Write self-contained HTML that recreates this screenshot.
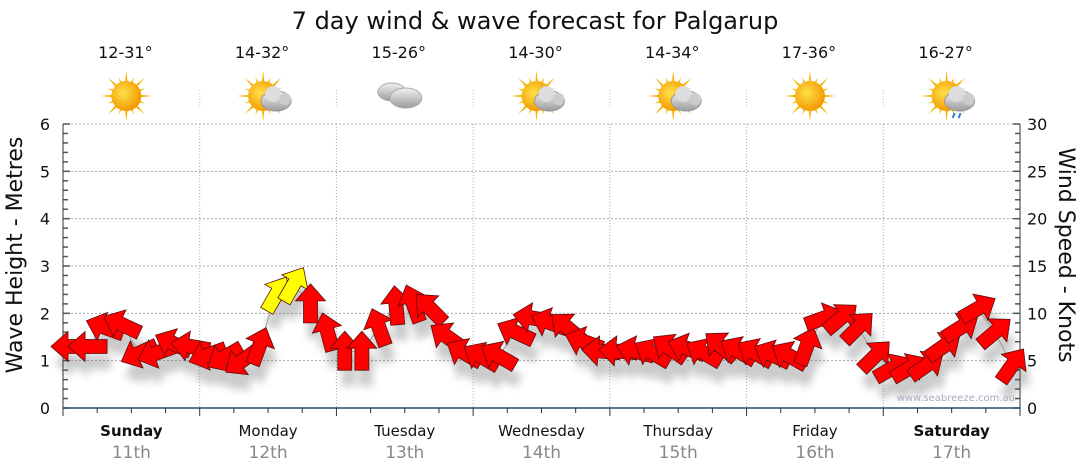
<!DOCTYPE html>
<html><head><meta charset="utf-8">
<style>
body{margin:0;background:#fff;width:1080px;height:475px;overflow:hidden;font-family:"DejaVu Sans","Liberation Sans",sans-serif}
svg{display:block}
</style></head>
<body>
<svg id="chart" width="1080" height="475" viewBox="0 0 1080 475" xmlns="http://www.w3.org/2000/svg">
<defs>
<radialGradient id="sunG" cx="40%" cy="40%" r="60%"><stop offset="0" stop-color="#ffe14a"/><stop offset="1" stop-color="#f39a00"/></radialGradient>
<linearGradient id="cloudG" x1="0" y1="0" x2="0" y2="1"><stop offset="0" stop-color="#f2f2f2"/><stop offset="1" stop-color="#9c9c9c"/></linearGradient>
<filter id="shadow" x="-50%" y="-50%" width="200%" height="200%"><feGaussianBlur stdDeviation="4"/></filter>
</defs>
<text x="535" y="29" text-anchor="middle" font-size="24" fill="#111">7 day wind &amp; wave forecast for Palgarup</text>
<g id="grid"></g>
<g id="icons"></g>
<g id="axes"></g>
<g id="shadows" filter="url(#shadow)" opacity="0.3"></g>
<polyline id="windline" fill="none" stroke="#999" stroke-width="1"/>
<g id="arrows"></g>
<text transform="translate(22,255) rotate(-90)" text-anchor="middle" font-size="22" fill="#111">Wave Height - Metres</text>
<text transform="translate(1059,255) rotate(90)" text-anchor="middle" font-size="22" fill="#111">Wind Speed - Knots</text>
<text x="1015" y="401" text-anchor="end" font-size="10" fill="#aab">www.seabreeze.com.au</text>
</svg>
<script>
const days=["Sunday","Monday","Tuesday","Wednesday","Thursday","Friday","Saturday"];
const dates=["11th","12th","13th","14th","15th","16th","17th"];
const temps=["12-31°","14-32°","15-26°","14-30°","14-34°","17-36°","16-27°"];
const weather=["sun","partly","cloud","partly","partly","sun","rain"];
const waveTicks=[0,1,2,3,4,5,6];
const windTicks=[0,5,10,15,20,25,30];
// wind speed in knots, every 3 hours
const windSpeed=[6.5,6.5,8.5,8.8,5.8,5.8,6.8,6.5,
5.6,5.4,5.0,6.5,12,13,11,8,
6,6,8.5,10.8,11,10.5,7.5,5.8,
5.4,5.5,8,9.5,9,8.5,7,6,
6,6,5.8,6.3,6.3,5.8,6.5,6,
5.8,5.6,5.5,6.5,9.5,9.5,8.5,5.5,
4.2,4.2,4.5,6.5,8.5,10.5,8,4.5];
// arrow pointing direction (degrees clockwise from up)
const windDir=[270,270,290,295,245,250,295,280,
250,240,235,20,30,30,0,345,
0,0,340,355,340,315,305,300,
300,300,295,280,290,310,290,275,
275,285,300,305,290,300,310,300,
300,295,300,20,70,50,45,45,
60,60,55,55,58,60,50,35];

const NS="http://www.w3.org/2000/svg";
const L=63,R=1020,T=124,B=408;
const dayW=(R-L)/7;
const yWave=v=>B-(v/6)*(B-T);
const yWind=k=>B-(k/30)*(B-T);
const xIdx=i=>L+8+i*(R-L-16)/(windSpeed.length-1);
function mk(tag,attrs,parent,txt){const e=document.createElementNS(NS,tag);for(const k in attrs)e.setAttribute(k,attrs[k]);if(txt!==undefined)e.textContent=txt;parent.appendChild(e);return e;}
const grid=document.getElementById('grid'),axes=document.getElementById('axes'),icons=document.getElementById('icons');
waveTicks.forEach(v=>{if(v>0){const l=mk('line',{x1:L,x2:R,y1:yWave(v),y2:yWave(v),stroke:'#aaa','stroke-dasharray':'2,2'},grid);

}
const t=mk('text',{x:50,y:yWave(v)+6,'text-anchor':'end','font-size':16,fill:'#111'},axes,v);

});
windTicks.forEach(k=>{const t=mk('text',{x:1027,y:yWind(k)+6,'font-size':16,fill:'#111'},axes,k);

});
for(let v=0;v<=6.001;v+=0.2){mk('line',{x1:L,x2:L+(Math.abs(v-Math.round(v))<0.01?7:5),y1:yWave(v),y2:yWave(v),stroke:'#555','stroke-width':1.5},axes);}
for(let k=0;k<=30;k++){mk('line',{x1:R-(k%5==0?7:5),x2:R,y1:yWind(k),y2:yWind(k),stroke:'#555','stroke-width':1.5},axes);}
mk('line',{x1:L,x2:L,y1:T,y2:B,stroke:'#333'},axes);
mk('line',{x1:R,x2:R,y1:T,y2:B,stroke:'#333'},axes);
mk('line',{x1:L,x2:R,y1:B,y2:B,stroke:'#1f4e79','stroke-width':1.5},axes);
for(let i=0;i<=28;i++){const x=L+i*dayW/4;mk('line',{x1:x,x2:x,y1:B,y2:B+(i%4==0?8:5),stroke:'#333'},axes);}
days.forEach((d,i)=>{const cx=L+dayW*(i+0.5);
if(i>0){const g=mk('line',{x1:L+dayW*i,x2:L+dayW*i,y1:T,y2:B,stroke:'#aaa','stroke-dasharray':'1,2'},grid);


mk('line',{x1:L+dayW*i,x2:L+dayW*i,y1:90,y2:108,stroke:'#bbb','stroke-dasharray':'1,2'},grid);}
const bold=(i==0||i==6);
const dl=mk('text',{x:cx,y:436,'text-anchor':'middle','font-size':15,'font-weight':bold?'bold':'normal',fill:'#111'},axes,d);


const dt=mk('text',{x:cx,y:458,'text-anchor':'middle','font-size':17,fill:'#888'},axes,dates[i]);


const tt=mk('text',{x:cx-6,y:58,'text-anchor':'middle','font-size':16,fill:'#111'},icons,temps[i]);


const g=mk('g',{transform:`translate(${cx-5},96)`},icons);


const w=weather[i];
if(w!=='cloud'){for(let a=0;a<16;a++){const len=a%2?20:26;const r=a*Math.PI/8;
mk('polygon',{points:`${Math.cos(r)*len},${Math.sin(r)*len} ${Math.cos(r+0.12)*12},${Math.sin(r+0.12)*12} ${Math.cos(r-0.12)*12},${Math.sin(r-0.12)*12}`,fill:'#f5b400'},g);}
mk('circle',{cx:0,cy:0,r:15,fill:'url(#sunG)'},g);}
if(w==='partly'||w==='rain'){mk('ellipse',{cx:13,cy:5,rx:15,ry:10,fill:'url(#cloudG)',stroke:'#999'},g);mk('circle',{cx:10,cy:-2,r:8,fill:'#ddd'},g);mk('circle',{cx:22,cy:3,r:6,fill:'#ccc'},g);}
if(w==='rain'){mk('line',{x1:8,y1:17,x2:6,y2:22,stroke:'#2a7fd4','stroke-width':2},g);mk('line',{x1:14,y1:17,x2:12,y2:22,stroke:'#2a7fd4','stroke-width':2},g);}
if(w==='cloud'){mk('ellipse',{cx:-8,cy:-4,rx:14,ry:9,fill:'url(#cloudG)',stroke:'#aaa'},g);mk('ellipse',{cx:6,cy:2,rx:16,ry:10,fill:'url(#cloudG)',stroke:'#aaa'},g);}
});
const arrowsG=document.getElementById('arrows'),shG=document.getElementById('shadows');
const shape="0,-20 15,-3 7,-3 7,19 -7,19 -7,-3 -15,-3";
let pts=[];
windSpeed.forEach((k,i)=>{const x=xIdx(i),y=yWind(k);pts.push(x+','+y);
mk('polygon',{points:shape,transform:`translate(${x+4},${y+16}) rotate(${windDir[i]})`,fill:'#555'},shG);
const a=mk('polygon',{points:shape,transform:`translate(${x},${y}) rotate(${windDir[i]})`,fill:k>=12?'#ffff00':'#ff0000',stroke:'#5a1010','stroke-width':0.8},arrowsG);


});
document.getElementById('windline').setAttribute('points',pts.join(' '));
</script>
</body></html>
